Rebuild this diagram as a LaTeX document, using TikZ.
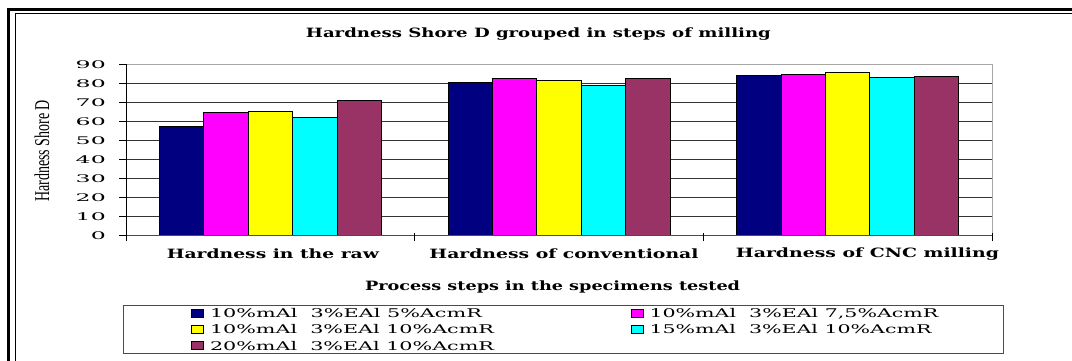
\documentclass[tikz,border=0pt]{standalone}
\usepackage{fontspec}
\setmainfont{DejaVu Serif}
\newfontfamily\timesfont{Liberation Serif}
\usepackage{graphicx}
\usetikzlibrary{positioning}
\definecolor{BarNavy}{HTML}{000080}
\definecolor{BarMagenta}{HTML}{FF00FF}
\definecolor{BarYellow}{HTML}{FFFF00}
\definecolor{BarCyan}{HTML}{00FFFF}
\definecolor{BarPlum}{HTML}{993366}
\definecolor{GridGray}{HTML}{A6A6A6}
% stretch a text to a given width, keeping its height
\newcommand{\fitw}[2]{\resizebox{#1}{\height}{#2}}
\newcommand{\widen}[1]{\scalebox{2.25}[1]{#1}}
\tikzset{
  heading/.style={font=\fontsize{12.8}{14}\selectfont\bfseries, inner sep=0pt},
  ticklbl/.style={font=\fontsize{10.5}{12}\selectfont, anchor=east, inner sep=0pt},
  legtext/.style={font=\fontsize{12}{14}\selectfont, inner sep=0pt},
  bar/.style={draw=black, line width=0.8pt},
  keybox/.style={draw=black, line width=0.6pt, minimum width=12pt,
                 minimum height=8pt, inner sep=0pt},
  gridline/.style={draw=black!80, line width=0.7pt}
}

\begin{document}
\begin{tikzpicture}[x=1pt, y=1pt]
  \useasboundingbox (0,0) rectangle (1072,-361);
  % double frame
  \draw[line width=2.5pt] (8.3,-361) -- (8.3,-9.5) -- (1072,-9.5);
  \draw[line width=1pt] (15.3,-361) -- (15.3,-13.3) -- (1072,-13.3);

  % plot area
  \foreach \v in {10,20,...,80}
    \draw[gridline] (126,{-235.5+1.9*\v}) -- (992,{-235.5+1.9*\v});
  \draw[GridGray, line width=1pt] (126,-64.5) -- (992,-64.5) -- (992,-235.5);

  % bars
  \foreach \g/\va/\vb/\vc/\vd/\ve in {0/57.4/64.7/65.2/61.9/71.1,
                                      1/80.4/82.7/81.8/79.2/82.7,
                                      2/84.1/84.6/85.7/83.1/83.9}
    \foreach \i/\v/\c in {0/\va/BarNavy, 1/\vb/BarMagenta, 2/\vc/BarYellow,
                          3/\vd/BarCyan, 4/\ve/BarPlum}
      \draw[bar, fill=\c] ({159.3+288.67*\g+44.41*\i},-235.5)
        rectangle ({159.3+288.67*\g+44.41*(\i+1)},{-235.5+1.9*\v});

  % axes
  \draw[black!70, line width=1pt] (126,-235.5) -- (992,-235.5);
  \draw[line width=1pt] (126,-235.5) -- (126,-64.5);
  \foreach \v in {0,10,...,90} {
    \draw[line width=0.8pt] (119,{-235.5+1.9*\v}) -- (126,{-235.5+1.9*\v});
    \node[ticklbl] (y\v) at (106,{-235.5+1.9*\v}) {\widen{\v}};
  }
  \foreach \x in {126,414.7,703.3,992}
    \draw[line width=0.8pt] (\x,-233) -- (\x,-241);

  % texts
  \node[heading] (title) at (538.4,-34.4)
    {\fitw{465pt}{Hardness Shore D grouped in steps of milling}};
  \node[heading] (cat1) at (272.9,-254) {\fitw{212pt}{Hardness in the raw}};
  \node[heading] (cat2) at (564,-254) {\fitw{269pt}{Hardness of conventional}};
  \node[heading] (cat3) at (867.5,-254) {\fitw{263pt}{Hardness of CNC milling}};
  \node[heading] (xtitle) at (552.6,-286.7)
    {\fitw{375pt}{Process steps in the specimens tested}};
  \node[inner sep=0pt] (ytitle) at (42,-151)
    {\scalebox{1.5}[1]{\rotatebox{90}{\timesfont\fontsize{14}{16}\selectfont Hardness Shore D}}};

  % legend
  \draw[black!70, line width=1pt] (123.3,-305.7) rectangle (1003,-353.3);
  \node[keybox, fill=BarNavy] (k1) at (197.5,-313.3) {};
  \node[keybox, fill=BarMagenta] (k2) at (637,-313.3) {};
  \node[keybox, fill=BarYellow] (k3) at (197.5,-329.5) {};
  \node[keybox, fill=BarCyan] (k4) at (637,-329.5) {};
  \node[keybox, fill=BarPlum] (k5) at (197.5,-345.7) {};
  \node[legtext, right=6pt of k1] (t1) {\fitw{272pt}{10\%mAl\ \ 3\%EAl 5\%AcmR}};
  \node[legtext, right=6pt of k2] (t2) {\fitw{289pt}{10\%mAl\ \ 3\%EAl 7,5\%AcmR}};
  \node[legtext, right=6pt of k3] (t3) {\fitw{284pt}{10\%mAl\ \ 3\%EAl 10\%AcmR}};
  \node[legtext, right=6pt of k4] (t4) {\fitw{282pt}{15\%mAl\ \ 3\%EAl 10\%AcmR}};
  \node[legtext, right=6pt of k5] (t5) {\fitw{284pt}{20\%mAl\ \ 3\%EAl 10\%AcmR}};
\end{tikzpicture}
\end{document}
